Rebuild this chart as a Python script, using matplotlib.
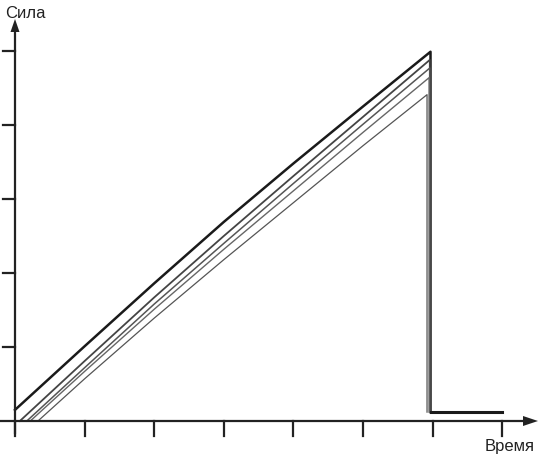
import matplotlib
matplotlib.use("Agg")
import matplotlib.pyplot as plt
from matplotlib.patches import Polygon

plt.rcParams['font.family'] = ['Liberation Sans', 'DejaVu Sans']

# Curves: (time, force) points, rising part
t_A = [0.0, 1.0, 2.0, 3.0, 4.0, 5.0, 5.97]
f_A = [0.15, 1.01, 1.86, 2.69, 3.48, 4.25, 4.99]
t_B = [0.07, 1.0, 2.0, 3.0, 4.0, 5.0, 5.96]
f_B = [0.0, 0.81, 1.67, 2.50, 3.31, 4.11, 4.88]
t_C = [0.17, 1.0, 2.0, 3.0, 4.0, 5.0, 5.96]
f_C = [0.0, 0.72, 1.58, 2.40, 3.21, 4.01, 4.77]
t_D = [0.22, 1.0, 2.0, 3.0, 4.0, 5.0, 5.95]
f_D = [0.0, 0.67, 1.51, 2.32, 3.11, 3.90, 4.64]
t_E = [0.33, 1.0, 2.0, 3.0, 4.0, 5.0, 5.92]
f_E = [0.0, 0.57, 1.39, 2.18, 2.95, 3.72, 4.41]

drop_level = 0.12
tail_end = 7.0
x_ticks = [0, 1, 2, 3, 4, 5, 6, 7]
y_ticks = [1, 2, 3, 4, 5]

W, H = 541, 457
fig = plt.figure(figsize=(W / 100, H / 100), dpi=100)
ax = fig.add_axes([0, 0, 1, 1])
x0px, y0px, sx, sy = 15, 421, 69.6, 74.0
ax.set_xlim(-x0px / sx, (W - x0px) / sx)
ax.set_ylim(-(H - y0px) / sy, y0px / sy)
ax.axis('off')

def px(dx):
    return dx / sx

def py(dy):
    return dy / sy

series = [
    (t_A, f_A, '#1a1a1a', 1.8),
    (t_B, f_B, '#444444', 1.3),
    (t_C, f_C, '#555555', 1.1),
    (t_D, f_D, '#666666', 1.0),
    (t_E, f_E, '#555555', 0.9),
]
for t, f, c, lw in series:
    tt = list(t) + [t[-1], t[-1]]
    ff = list(f) + [f[-1], drop_level]
    ax.plot(tt, ff, color=c, lw=lw, solid_joinstyle='round')
# tail
ax.plot([t_A[-1], tail_end], [drop_level, drop_level], color='#1a1a1a', lw=2.2)

# axes lines
ax.plot([px(-15), px(510)], [0, 0], color='#222222', lw=1.6)
ax.plot([0, 0], [py(-12), py(390)], color='#222222', lw=1.6)
# ticks
for x in x_ticks:
    ax.plot([x, x], [0, py(-15)], color='#222222', lw=1.6)
for y in y_ticks:
    ax.plot([px(-12), 0], [y, y], color='#222222', lw=1.6)
# arrow heads
ax.add_patch(Polygon([[px(508), py(5)], [px(523), 0], [px(508), py(-5)]],
                     closed=True, color='#222222', lw=0))
ax.add_patch(Polygon([[px(-4.5), py(389)], [0, py(402)], [px(4.5), py(389)]],
                     closed=True, color='#222222', lw=0))

ax.text(px(-10), py(408), 'Сила', fontsize=12, ha='left', va='center', color='#222222')
ax.text(px(520), py(-26), 'Время', fontsize=12, ha='right', va='center', color='#222222')

fig.savefig('out.png', dpi=100)
